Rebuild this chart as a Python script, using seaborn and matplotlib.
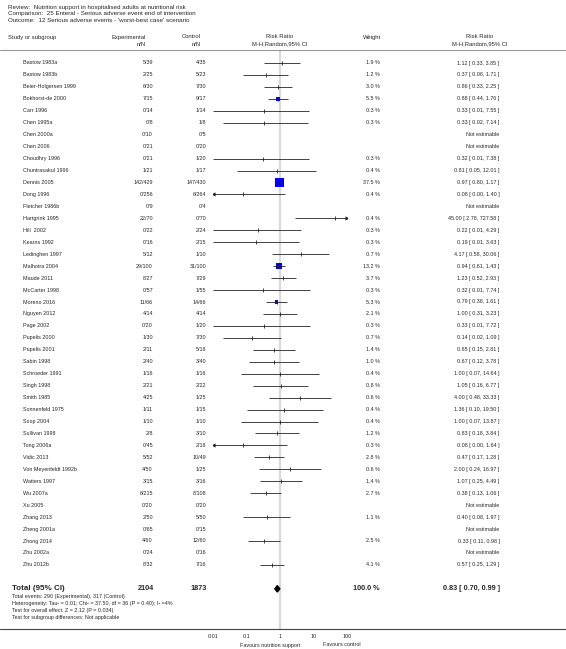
import numpy as np
import pandas as pd
import matplotlib
matplotlib.use("Agg")
import matplotlib.pyplot as plt
import matplotlib.transforms as mtransforms
import seaborn as sns

# data
studies = ["Bastow 1983a", "Bastow 1983b", "Beier-Holgersen 1999", "Bokhorst-de 2000", "Carr 1996",
           "Chen 1995a", "Chen 2000a", "Chen 2006", "Choudhry 1996", "Chuntrasakul 1996",
           "Dennis 2005", "Dong 1996", "Fletcher 1986b", "Hartgrink 1995", "Hill  2002",
           "Kearns 1992", "Ledinghen 1997", "Malhotra 2004", "Maude 2011", "McCarter 1998",
           "Moreno 2016", "Nguyen 2012", "Page 2002", "Pupelis 2000", "Pupelis 2001",
           "Sabin 1998", "Schroeder 1991", "Singh 1998", "Smith 1985", "Sonnenfeld 1975",
           "Soop 2004", "Sullivan 1998", "Tong 2006a", "Vidic 2013", "Von Meyenfeldt 1992b",
           "Watters 1997", "Wu 2007a", "Xu 2005", "Zhang 2013", "Zheng 2001a",
           "Zhong 2014", "Zhu 2002a", "Zhu 2012b"]
exp_events = [5, 2, 6, 7, 0, 0, 0, 0, 0, 1, 142, 0, 0, 22, 0, 0, 5, 29, 8, 0, 11, 4, 0, 1, 2,
              2, 1, 2, 4, 1, 1, 2, 0, 5, 4, 3, 6, 0, 2, 0, 4, 0, 8]
exp_total = [39, 25, 30, 15, 14, 8, 10, 21, 21, 21, 429, 256, 9, 70, 22, 16, 12, 100, 27, 57, 66,
             14, 20, 30, 11, 40, 16, 21, 25, 11, 10, 8, 45, 52, 50, 15, 215, 20, 50, 65, 60, 24, 32]
ctl_events = [4, 5, 7, 9, 1, 1, 0, 0, 1, 1, 147, 6, 0, 0, 2, 2, 1, 31, 7, 1, 14, 4, 1, 7, 5,
              3, 1, 2, 1, 1, 1, 3, 2, 10, 1, 3, 8, 0, 5, 0, 12, 0, 7]
ctl_total = [35, 23, 30, 17, 14, 8, 5, 20, 20, 17, 430, 264, 4, 70, 24, 15, 10, 100, 29, 55, 66,
             14, 20, 30, 18, 40, 16, 22, 25, 15, 10, 10, 18, 49, 25, 16, 108, 20, 50, 15, 60, 16, 16]
weights = [1.9, 1.2, 3.0, 5.5, 0.3, 0.3, np.nan, np.nan, 0.3, 0.4, 37.5, 0.4, np.nan, 0.4, 0.3,
           0.3, 0.7, 13.2, 3.7, 0.3, 5.3, 2.1, 0.3, 0.7, 1.4, 1.0, 0.4, 0.8, 0.6, 0.4,
           0.4, 1.2, 0.3, 2.8, 0.6, 1.4, 2.7, np.nan, 1.1, np.nan, 2.5, np.nan, 4.1]
rr = [1.12, 0.37, 0.86, 0.88, 0.33, 0.33, np.nan, np.nan, 0.32, 0.81, 0.97, 0.08, np.nan, 45.00, 0.22,
      0.19, 4.17, 0.94, 1.23, 0.32, 0.79, 1.00, 0.33, 0.14, 0.65, 0.67, 1.00, 1.05, 4.00, 1.36,
      1.00, 0.83, 0.08, 0.47, 2.00, 1.07, 0.38, np.nan, 0.40, np.nan, 0.33, np.nan, 0.57]
ci_low = [0.33, 0.08, 0.33, 0.44, 0.01, 0.02, np.nan, np.nan, 0.01, 0.05, 0.80, 0.00, np.nan, 2.78, 0.01,
          0.01, 0.58, 0.61, 0.52, 0.01, 0.38, 0.31, 0.01, 0.02, 0.15, 0.12, 0.07, 0.16, 0.48, 0.10,
          0.07, 0.18, 0.00, 0.17, 0.24, 0.25, 0.13, np.nan, 0.08, np.nan, 0.11, np.nan, 0.25]
ci_high = [3.85, 1.71, 2.25, 1.76, 7.55, 7.14, np.nan, np.nan, 7.38, 12.01, 1.17, 1.40, np.nan, 727.58, 4.29,
           3.63, 30.06, 1.43, 2.93, 7.74, 1.61, 3.23, 7.72, 1.09, 2.81, 3.78, 14.64, 6.77, 33.33, 19.50,
           13.87, 3.84, 1.64, 1.28, 16.97, 4.49, 1.06, np.nan, 1.97, np.nan, 0.98, np.nan, 1.29]

total_exp, total_ctl = 2104, 1873
total_rr, total_low, total_high = 0.83, 0.70, 0.99
x_ticks = [0.01, 0.1, 1, 10, 100]
x_tick_labels = ["0.01", "0.1", "1", "10", "100"]

df = pd.DataFrame({"study": studies, "e_ev": exp_events, "e_n": exp_total, "c_ev": ctl_events,
                   "c_n": ctl_total, "weight": weights, "rr": rr, "lo": ci_low, "hi": ci_high})
df["row"] = np.arange(len(df))
total_row = len(df) + 1

sns.set_style("white")
plt.rcParams['font.family'] = ['Liberation Sans', 'DejaVu Sans']
fs = 3.9
hfs = 4.2

W, H = 566, 649
fig = plt.figure(figsize=(W / 100, H / 100), dpi=100)
ax_x0, ax_x1 = 213.3, 346.7
ax_y0, ax_y1 = 50, 629
ax = fig.add_axes([ax_x0 / W, (H - ax_y1) / H, (ax_x1 - ax_x0) / W, (ax_y1 - ax_y0) / H])
ax.set_xscale("log")
ax.set_xlim(0.01, 100)
row_h = 11.95
ax.set_ylim((ax_y1 - 63) / row_h, (ax_y0 - 63) / row_h)

# line of no effect
ax.axvline(1, color="#dadada", lw=1.6, zorder=1)

est = df.dropna(subset=["rr"])
# only the heavier studies show a visible blue box
big = est[est["weight"] >= 5]
sns.scatterplot(data=big, x="rr", y="row", size="weight", sizes=(42 * 5.3 / 37.5, 42),
                size_norm=(5.3, 37.5), marker="s", color="#0000ff", edgecolor="none",
                legend=False, ax=ax, zorder=3)
lo_c = est["lo"].clip(lower=0.01)
hi_c = est["hi"].clip(upper=100)
ax.hlines(est["row"], lo_c, hi_c, color="#222222", lw=0.6, zorder=4)
ax.plot(est["rr"], est["row"], ls="none", marker="|", ms=3, mew=0.6, color="#222222", zorder=5)
left_arr = est[est["lo"] < 0.01]
right_arr = est[est["hi"] > 100]
ax.plot(lo_c[left_arr.index], left_arr["row"], ls="none", marker="<", ms=3, mew=0,
        color="#222222", zorder=5)
ax.plot(hi_c[right_arr.index], right_arr["row"], ls="none", marker=">", ms=3, mew=0,
        color="#222222", zorder=5)

# pooled diamond
ax.fill([total_low, total_rr, total_high, total_rr],
        [total_row, total_row - 0.27, total_row, total_row + 0.27], color="black", zorder=5)

ax.set_xticks(x_ticks)
ax.set_xticklabels(x_tick_labels)
ax.minorticks_off()
ax.set_yticks([])
ax.tick_params(axis="x", direction="in", length=2.5, width=0.5, color="#555555",
               labelsize=fs, pad=3.5, labelcolor="#222222")
for s in ax.spines.values():
    s.set_visible(False)
ax.set_xlabel("")
ax.set_ylabel("")
ext = [-ax_x0 / (ax_x1 - ax_x0), (W - ax_x0) / (ax_x1 - ax_x0)]
ax.plot(ext, [0, 0], transform=ax.transAxes, clip_on=False, color="#444444", lw=0.8)
ax.plot(ext, [1, 1], transform=ax.transAxes, clip_on=False, color="#999999", lw=0.8)

# text columns
tr = mtransforms.blended_transform_factory(fig.transFigure, ax.transData)
for _, r in df.iterrows():
    y = r["row"]
    ax.text(23 / W, y, r["study"], transform=tr, fontsize=fs, va="center", ha="left")
    ax.text(153 / W, y, f"{r['e_ev']}/{r['e_n']}", transform=tr, fontsize=fs, va="center", ha="right")
    ax.text(206.5 / W, y, f"{r['c_ev']}/{r['c_n']}", transform=tr, fontsize=fs, va="center", ha="right")
    if np.isnan(r["rr"]):
        ax.text(499.5 / W, y, "Not estimable", transform=tr, fontsize=fs, va="center", ha="right")
    else:
        ax.text(379.5 / W, y, f"{r['weight']:.1f} %", transform=tr, fontsize=fs, va="center", ha="right")
        ax.text(499.5 / W, y, f"{r['rr']:.2f} [ {r['lo']:.2f}, {r['hi']:.2f} ]", transform=tr,
                fontsize=fs, va="center", ha="right")

bfs = 5.2
ax.text(12 / W, total_row, "Total (95% CI)", transform=tr, fontsize=5.8, weight="bold", va="center")
ax.text(154 / W, total_row, f"{total_exp}", transform=tr, fontsize=bfs, weight="bold", va="center", ha="right")
ax.text(207 / W, total_row, f"{total_ctl}", transform=tr, fontsize=bfs, weight="bold", va="center", ha="right")
ax.text(379.5 / W, total_row, "100.0 %", transform=tr, fontsize=bfs, weight="bold", va="center", ha="right")
ax.text(499.5 / W, total_row, f"{total_rr:.2f} [ {total_low:.2f}, {total_high:.2f} ]", transform=tr,
        fontsize=bfs, weight="bold", va="center", ha="right")
notes = ["Total events: 290 (Experimental), 317 (Control)",
         "Heterogeneity: Tau\u00b2 = 0.01; Chi\u00b2 = 37.50, df = 36 (P = 0.40); I\u00b2 =4%",
         "Test for overall effect: Z = 2.12 (P = 0.034)",
         "Test for subgroup differences: Not applicable"]
for i, t in enumerate(notes):
    ax.text(12 / W, total_row + 0.67 + 0.585 * i, t, transform=tr, fontsize=fs, va="center")

# header
def ftext(x, y, s, size=fs, **kw):
    fig.text(x / W, 1 - y / H, s, fontsize=size, va="center", **kw)

ftext(8, 7, "Review:  Nutrition support in hospitalised adults at nutritional risk", size=4.5)
ftext(8, 14, "Comparison:  25 Enteral - Serious adverse event end of intervention", size=4.5)
ftext(8, 21, "Outcome:  12 Serious adverse events - 'worst-best case' scenario", size=4.5)
ftext(8, 37, "Study or subgroup", size=hfs)
ftext(146, 37, "Experimental", size=hfs, ha="right")
ftext(146, 44, "n/N", size=hfs, ha="right")
ftext(201, 37, "Control", size=hfs, ha="right")
ftext(201, 44, "n/N", size=hfs, ha="right")
ftext(280, 37, "Risk Ratio", size=hfs, ha="center")
ftext(280, 44, "M-H,Random,95% CI", size=hfs, ha="center")
ftext(372, 37, "Weight", size=hfs, ha="center")
ftext(480, 37, "Risk Ratio", size=hfs, ha="center")
ftext(480, 44, "M-H,Random,95% CI", size=hfs, ha="center")
ftext(240, 645, "Favours nutrition support")
ftext(323, 645, "Favours control")

fig.savefig("out.png", dpi=100, facecolor="white")
